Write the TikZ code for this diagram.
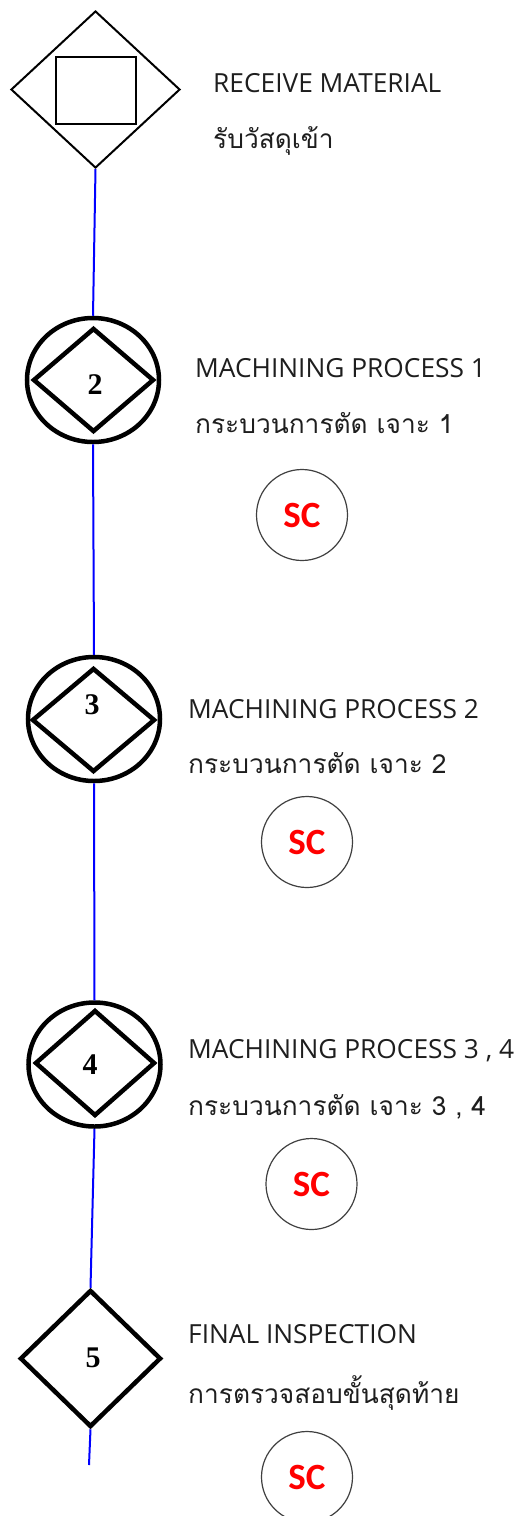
\documentclass[tikz,border=0pt]{standalone}
\usepackage{fontspec}
\setmainfont{Liberation Serif}
\newfontfamily\latinfont{Open Sans}
\newfontfamily\thaifont[Script=Thai]{Loma}
\newfontfamily\scfont{Carlito}
\usetikzlibrary{shapes.geometric}
\definecolor{flowblue}{RGB}{0,0,255}
\definecolor{txtgray}{RGB}{30,30,30}
\definecolor{scred}{RGB}{255,0,0}
\tikzset{
  thindia/.style={draw, shape=diamond, line width=2pt, inner sep=0pt},
  thickdia/.style={draw, shape=diamond, line width=4.5pt, inner sep=0pt},
  opring/.style={draw, shape=ellipse, line width=4.5pt, inner sep=0pt, minimum width=132pt, minimum height=124pt},
  numlbl/.style={font=\fontsize{30}{30}\selectfont\bfseries, inner sep=0pt},
  entxt/.style={anchor=base west, inner sep=0pt, text=txtgray, font=\latinfont\fontsize{26.3}{26.3}\selectfont},
  thtxt/.style={anchor=base west, inner sep=0pt, text=txtgray, font=\thaifont\fontsize{26.3}{26.3}\selectfont},
  scmark/.style={draw=black!75, line width=1.2pt, shape=circle, minimum size=91pt, inner sep=0pt, text=scred, font=\scfont\bfseries\fontsize{37}{37}\selectfont},
  flow/.style={draw=flowblue, line width=2pt}
}
\begin{document}
\begin{tikzpicture}[x=1pt,y=-1pt]
\useasboundingbox[fill=white] (0,0) rectangle (529,1516);
% step 1: receive
\node[thindia, minimum width=169pt, minimum height=157pt] (d1) at (95.5,89.5) {};
\node[draw, line width=2.2pt, minimum width=80pt, minimum height=67pt, inner sep=0pt] (r1) at (96,90.5) {};
\node[entxt] (t1a) at (213,92) {RECEIVE MATERIAL};
\node[thtxt] (t1b) at (213,148) {รับวัสดุเข้า};
% step 2
\node[opring] (c2) at (93,380) {};
\node[thickdia, minimum width=121pt, minimum height=104pt] (d2) at (93.5,380) {};
\node[numlbl] (n2) at (95,385) {2};
\node[entxt] (t2a) at (195,377) {MACHINING PROCESS 1};
\node[thtxt] (t2b) at (195,433) {กระบวนการตัด เจาะ 1};
\node[scmark] (s2) at (302,515) {SC};
% step 3
\node[opring] (c3) at (94,719) {};
\node[thickdia, minimum width=123pt, minimum height=104pt] (d3) at (93.5,720) {};
\node[numlbl] (n3) at (92,705) {3};
\node[entxt] (t3a) at (188,718) {MACHINING PROCESS 2};
\node[thtxt] (t3b) at (188,773) {กระบวนการตัด เจาะ 2};
\node[scmark] (s3) at (307,842) {SC};
% step 4
\node[opring] (c4) at (94.5,1064.5) {};
\node[thickdia, minimum width=120pt, minimum height=106pt] (d4) at (95,1063) {};
\node[numlbl] (n4) at (90,1065) {4};
\node[entxt] (t4a) at (188,1058) {MACHINING PROCESS 3 , 4};
\node[thtxt] (t4b) at (188,1115) {กระบวนการตัด เจาะ 3 , 4};
\node[scmark] (s4) at (311.5,1184) {SC};
% step 5
\node[thickdia, minimum width=141pt, minimum height=137pt] (d5) at (90.5,1358.5) {};
\node[numlbl] (n5) at (93,1358) {5};
\node[entxt] (t5a) at (188,1343) {FINAL INSPECTION};
\node[thtxt] (t5b) at (188,1403) {การตรวจสอบขั้นสุดท้าย};
\node[scmark] (s5) at (307,1477) {SC};
\coordinate (end) at (89,1465);
% connectors
\draw[flow] (d1.south) -- (c2.north);
\draw[flow] (c2.south) -- (c3.north);
\draw[flow] (c3.south) -- (c4.north);
\draw[flow] (c4.south) -- (d5.north);
\draw[flow] (d5.south) -- (end);
\end{tikzpicture}
\end{document}
